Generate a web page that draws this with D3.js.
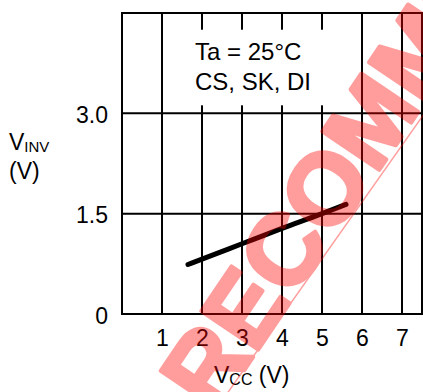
<!DOCTYPE html>
<html>
<head>
<meta charset="utf-8">
<script src="https://cdn.jsdelivr.net/npm/d3@7"></script>
<style>
  body { margin: 0; background: #fff; }
  svg { display: block; font-family: "Liberation Sans", Arial, sans-serif; }
</style>
</head>
<body>
<div id="chart"></div>
<script>
// data
var vcc  = [1.65, 2.0, 3.0, 4.0, 5.0, 5.6];
var vinv = [0.74, 0.82, 1.05, 1.28, 1.50, 1.64];

var xTicks = [1, 2, 3, 4, 5, 6, 7];
var yTicks = [0, 1.5, 3.0];
var yTickLabels = ["0", "1.5", "3.0"];
var xGrid = [0, 1, 2, 3, 4, 5, 6, 7, 7.5];
var yGrid = [0, 1.5, 3.0, 4.5];
var noteLines = ["Ta = 25\u00B0C", "CS, SK, DI"];

var W = 423, H = 392;

var svg = d3.select("#chart")
  .append("svg")
  .attr("width", W)
  .attr("height", H);

var xScale = d3.scaleLinear().domain([0, 7.5]).range([122, 422]);
var yScale = d3.scaleLinear().domain([0, 4.5]).range([314, 13]);

// grid
svg.selectAll("line.vg")
  .data(xGrid)
  .enter()
  .append("line")
  .attr("class", "vg")
  .attr("x1", (d) => xScale(d))
  .attr("x2", (d) => xScale(d))
  .attr("y1", yScale(0) + 1)
  .attr("y2", yScale(4.5) - 1)
  .attr("stroke", "#000")
  .attr("stroke-width", 2);

svg.selectAll("line.hg")
  .data(yGrid)
  .enter()
  .append("line")
  .attr("class", "hg")
  .attr("x1", xScale(0) - 1)
  .attr("x2", xScale(7.5) + 1)
  .attr("y1", (d) => yScale(d))
  .attr("y2", (d) => yScale(d))
  .attr("stroke", "#000")
  .attr("stroke-width", 2);

// white box behind the note
svg.append("rect")
  .attr("x", xScale(1.2))
  .attr("y", yScale(4.25))
  .attr("width", xScale(5.8) - xScale(1.2))
  .attr("height", yScale(3.12) - yScale(4.25))
  .attr("fill", "#fff");

svg.selectAll("text.note")
  .data(noteLines)
  .enter()
  .append("text")
  .attr("class", "note")
  .attr("x", 195)
  .attr("y", (d, i) => 60 + i * 30)
  .attr("font-size", 24)
  .attr("fill", "#000")
  .text((d) => d);

// x axis labels
var xAxis = d3.axisBottom(xScale)
  .tickValues(xTicks)
  .tickFormat(d3.format("d"))
  .tickSize(0)
  .tickPadding(16);

var gx = svg.append("g")
  .attr("transform", "translate(0," + yScale(0) + ")")
  .call(xAxis);
gx.select(".domain").remove();
gx.selectAll("text")
  .attr("font-size", 23)
  .attr("font-family", "Liberation Sans, Arial, sans-serif")
  .attr("fill", "#000");

// y axis labels
var yAxis = d3.axisLeft(yScale)
  .tickValues(yTicks)
  .tickFormat((d, i) => yTickLabels[i])
  .tickSize(0)
  .tickPadding(14);

var gy = svg.append("g")
  .attr("transform", "translate(" + xScale(0) + ",0)")
  .call(yAxis);
gy.select(".domain").remove();
gy.selectAll("text")
  .attr("font-size", 23)
  .attr("font-family", "Liberation Sans, Arial, sans-serif")
  .attr("fill", "#000")
  .attr("dy", "0.4em");

// axis titles
var yt = svg.append("text").attr("x", 9).attr("y", 150).attr("font-size", 23);
yt.append("tspan").text("V");
yt.append("tspan").attr("font-size", 15).attr("dy", 2).text("INV");
svg.append("text").attr("x", 9).attr("y", 179).attr("font-size", 23).text("(V)");

var xt = svg.append("text").attr("x", 214).attr("y", 383).attr("font-size", 23);
xt.append("tspan").text("V");
xt.append("tspan").attr("font-size", 16).attr("dy", 2).text("CC");
xt.append("tspan").attr("dy", -2).text(" (V)");

// curve
var line = d3.line()
  .x((d) => xScale(d[0]))
  .y((d) => yScale(d[1]))
  .curve(d3.curveMonotoneX);

svg.append("path")
  .datum(d3.zip(vcc, vinv))
  .attr("d", line)
  .attr("fill", "none")
  .attr("stroke", "#000")
  .attr("stroke-width", 5)
  .attr("stroke-linecap", "round");

// watermark on top
var wm = svg.append("g").attr("opacity", 0.38);
wm.append("text")
  .attr("transform", "translate(214,415) rotate(-56)")
  .attr("font-size", 100)
  .attr("font-weight", "bold")
  .attr("fill", "#ff0000")
  .attr("stroke", "#ff0000")
  .attr("stroke-width", 4)
  .attr("stroke-linejoin", "round")
  .text("RECOMMENDED");
wm.append("line")
  .attr("x1", 200).attr("y1", 432)
  .attr("x2", 441).attr("y2", 90)
  .attr("stroke", "#ff0000")
  .attr("stroke-width", 1.5);
</script>
</body>
</html>
